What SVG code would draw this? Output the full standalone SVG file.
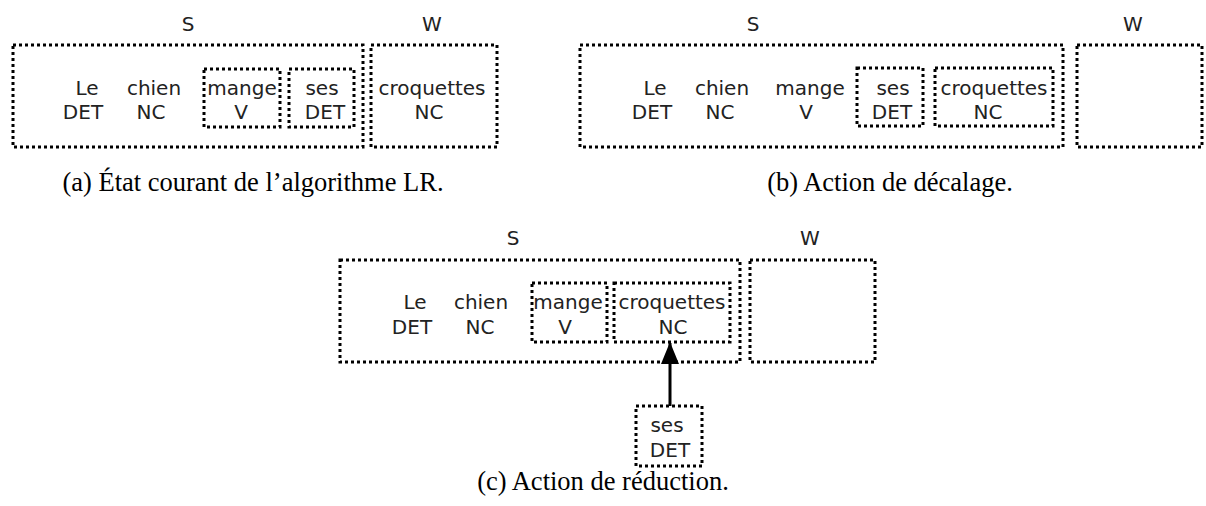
<svg xmlns="http://www.w3.org/2000/svg" width="1206" height="506" viewBox="0 0 1206 506">
<style>
.box{fill:none;stroke:#000;stroke-width:3;stroke-dasharray:3 3}
.t{font-family:"DejaVu Sans",sans-serif;font-size:20px;fill:#222;text-anchor:middle}
.cap{font-family:"Liberation Serif",serif;font-size:26.5px;fill:#000;text-anchor:middle}
.edge{stroke:#000;stroke-width:3;fill:none}
</style>
<defs>
<marker id="ah" markerUnits="userSpaceOnUse" markerWidth="22" markerHeight="18" viewBox="0 0 22 18" refX="21" refY="9" orient="auto">
<path d="M22 9 L0 0 L0 18 Z" fill="#000"/>
</marker>
</defs>
<rect width="1206" height="506" fill="#fff"/>

<!-- Panel a -->
<g id="a-stack">
<rect class="box" x="13" y="45" width="350" height="102"/>
<text class="t" x="188" y="31">S</text>
<text class="t" x="87" y="95">Le</text><text class="t" x="83" y="119">DET</text>
<text class="t" x="154" y="95">chien</text><text class="t" x="151" y="119">NC</text>
</g>
<g id="a-mange">
<rect class="box" x="204" y="69" width="76" height="58"/>
<text class="t" x="242" y="95">mange</text><text class="t" x="241" y="119">V</text>
</g>
<g id="a-ses">
<rect class="box" x="289" y="69" width="65" height="58"/>
<text class="t" x="322" y="95">ses</text><text class="t" x="325" y="119">DET</text>
</g>
<g id="a-buffer">
<rect class="box" x="371" y="45" width="126" height="102"/>
<text class="t" x="432" y="31">W</text>
<text class="t" x="432" y="95">croquettes</text><text class="t" x="429" y="119">NC</text>
</g>
<text class="cap" x="253" y="191">(a) État courant de l’algorithme LR.</text>

<!-- Panel b -->
<g id="b-stack">
<rect class="box" x="580" y="45" width="483" height="102"/>
<text class="t" x="753" y="31">S</text>
<text class="t" x="655" y="95">Le</text><text class="t" x="652" y="119">DET</text>
<text class="t" x="722" y="95">chien</text><text class="t" x="720" y="119">NC</text>
<text class="t" x="810" y="95">mange</text><text class="t" x="806" y="119">V</text>
</g>
<g id="b-ses">
<rect class="box" x="857" y="68" width="66" height="58"/>
<text class="t" x="893" y="95">ses</text><text class="t" x="892" y="119">DET</text>
</g>
<g id="b-croquettes">
<rect class="box" x="935" y="68" width="118" height="58"/>
<text class="t" x="994" y="95">croquettes</text><text class="t" x="988" y="119">NC</text>
</g>
<g id="b-buffer">
<rect class="box" x="1077" y="45" width="125" height="102"/>
<text class="t" x="1133" y="31">W</text>
</g>
<text class="cap" x="890" y="191">(b) Action de décalage.</text>

<!-- Panel c -->
<g id="c-stack">
<rect class="box" x="340" y="260" width="400" height="102"/>
<text class="t" x="513" y="245">S</text>
<text class="t" x="415" y="309">Le</text><text class="t" x="412" y="334">DET</text>
<text class="t" x="481" y="309">chien</text><text class="t" x="480" y="334">NC</text>
</g>
<g id="c-mange">
<rect class="box" x="532" y="283" width="75" height="59"/>
<text class="t" x="568" y="309">mange</text><text class="t" x="565" y="334">V</text>
</g>
<g id="c-croquettes">
<rect class="box" x="614" y="283" width="116" height="59"/>
<text class="t" x="672" y="309">croquettes</text><text class="t" x="673" y="334">NC</text>
</g>
<g id="c-buffer">
<rect class="box" x="750" y="260" width="125" height="102"/>
<text class="t" x="810" y="245">W</text>
</g>
<g id="c-ses">
<rect class="box" x="636" y="406" width="66" height="60"/>
<text class="t" x="667" y="432">ses</text><text class="t" x="670" y="457">DET</text>
</g>
<g id="connectors">
<line class="edge" x1="670" y1="406" x2="670" y2="343" marker-end="url(#ah)"/>
</g>
<text class="cap" x="603" y="490">(c) Action de réduction.</text>
</svg>
